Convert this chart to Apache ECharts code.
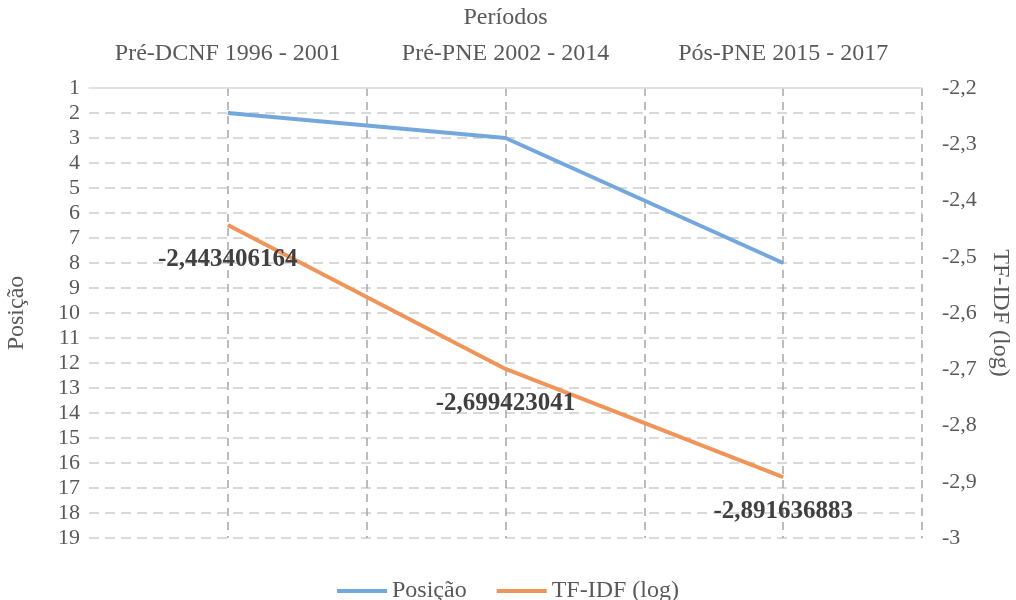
<!DOCTYPE html>
<html>
<head>
<meta charset="utf-8">
<script src="https://cdn.jsdelivr.net/npm/echarts@6/dist/echarts.min.js"></script>
<style>
  html, body { margin: 0; padding: 0; background: #fff; }
  #chart { width: 1016px; height: 600px; }
</style>
</head>
<body>
<div id="chart"></div>
<script>
const periodos = ["Pré-DCNF 1996 - 2001", "Pré-PNE 2002 - 2014", "Pós-PNE 2015 - 2017"];
const posicao = [2, 3, 8];
const tfidf = [-2.443406164, -2.699423041, -2.891636883];
const posTicks = { min: 1, max: 19, step: 1 };
const tfTicks = { min: -3, max: -2.2, step: 0.1 };

const font = "Liberation Serif";
const textGray = "#595959";
const comma = (v) => String(v).replace(".", ",");

const chart = echarts.init(document.getElementById("chart"));
chart.setOption({
  textStyle: { fontFamily: font },
  legend: {
    top: 574,
    left: "center",
    itemWidth: 50,
    itemHeight: 4,
    itemGap: 30,
    icon: "rect",
    textStyle: { fontFamily: font, fontSize: 24, color: textGray },
  },
  grid: { left: 89, right: 94, top: 88, bottom: 62, outerBoundsMode: "none" },
  xAxis: [
    {
      type: "category",
      position: "top",
      data: periodos,
      boundaryGap: true,
      name: "Períodos",
      nameLocation: "middle",
      nameGap: 58,
      nameTextStyle: { fontFamily: font, fontSize: 24, color: textGray },
      axisTick: { show: false },
      axisLine: { show: true, lineStyle: { color: "#d9d9d9", width: 1.5 } },
      axisLabel: {
        interval: 0,
        hideOverlap: false,
        fontFamily: font,
        fontSize: 24,
        color: textGray,
        margin: 22,
      },
      splitLine: { show: false },
    },
    {
      // helper axis just for the dashed vertical grid (centres + boundaries)
      type: "value",
      position: "bottom",
      min: 0,
      max: 6,
      interval: 1,
      show: true,
      axisLine: { show: false },
      axisTick: { show: false },
      axisLabel: { show: false },
      splitLine: {
        show: true,
        showMinLine: false,
        lineStyle: { color: "#a6a6a6", type: [8, 6], width: 1.5 },
      },
    },
  ],
  yAxis: [
    {
      type: "value",
      inverse: true,
      min: posTicks.min,
      max: posTicks.max,
      interval: posTicks.step,
      name: "Posição",
      nameLocation: "middle",
      nameGap: 60,
      nameRotate: 90,
      nameTextStyle: { fontFamily: font, fontSize: 24, color: textGray },
      axisLine: { show: false },
      axisTick: { show: false },
      axisLabel: { fontFamily: font, fontSize: 22, color: textGray, margin: 9 },
      splitLine: {
        show: true,
        showMinLine: false,
        lineStyle: { color: "#d9d9d9", type: [10, 6], width: 2 },
      },
    },
    {
      type: "value",
      position: "right",
      min: tfTicks.min,
      max: tfTicks.max,
      interval: tfTicks.step,
      name: "TF-IDF (log)",
      nameLocation: "middle",
      nameGap: 66,
      nameRotate: -90,
      nameTextStyle: { fontFamily: font, fontSize: 24, color: textGray },
      axisLine: { show: false },
      axisTick: { show: false },
      axisLabel: {
        fontFamily: font,
        fontSize: 22,
        color: textGray,
        margin: 20,
        formatter: (v) => comma(Math.round(v * 10) / 10),
      },
      splitLine: { show: false },
    },
  ],
  series: [
    {
      name: "Posição",
      type: "line",
      xAxisIndex: 0,
      yAxisIndex: 0,
      data: posicao,
      symbol: "none",
      lineStyle: { color: "#74a7dc", width: 4 },
      itemStyle: { color: "#74a7dc" },
    },
    {
      name: "TF-IDF (log)",
      type: "line",
      xAxisIndex: 0,
      yAxisIndex: 1,
      data: tfidf,
      symbol: "circle",
      symbolSize: 0,
      showSymbol: true,
      lineStyle: { color: "#f0955a", width: 4 },
      itemStyle: { color: "#f0955a" },
      label: {
        show: true,
        position: "bottom",
        distance: 22,
        fontFamily: font,
        fontSize: 25,
        fontWeight: "bold",
        color: "#404040",
        formatter: (p) => comma(p.value),
      },
    },
  ],
});
</script>
</body>
</html>
